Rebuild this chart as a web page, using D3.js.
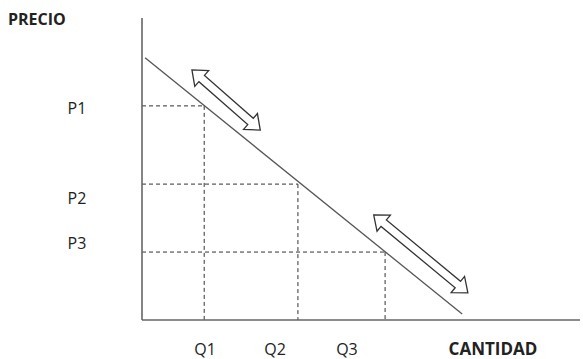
<!DOCTYPE html>
<html><head><meta charset="utf-8">
<script src="https://cdn.jsdelivr.net/npm/d3@7/dist/d3.min.js"></script>
<style>body{margin:0;background:#fff}svg{display:block}</style>
</head><body><svg id="c" width="583" height="359"></svg>
<script>
// ---- data (arbitrary units, 0..100 on both axes) ----
const priceLabels = ["P1", "P2", "P3"];
const priceValues = [70.9, 45.0, 22.5];
const priceLabelAt = [68.2, 38.4, 23.5];
const qtyLabels = ["Q1", "Q2", "Q3"];
const qtyValues = [14.2, 35.6, 55.5];
const qtyLabelAt = [14.4, 30.4, 46.8];
const demandX = [0.7, 73.1];
const demandY = [86.8, 2.0];
const arrowStartX = [11.4, 52.9];
const arrowStartY = [82.8, 34.8];
const arrowEndX = [27.0, 74.4];
const arrowEndY = [62.9, 9.0];
const axisTitles = ["PRECIO", "CANTIDAD"];

const svg = d3.select("#c");
const x = d3.scaleLinear().domain([0, 100]).range([142, 580]);
const y = d3.scaleLinear().domain([0, 100]).range([320, 18]);
const font = "'Open Sans', 'Liberation Sans', sans-serif";

// dashed guides
const g = svg.append("g");
priceValues.forEach((p, i) => {
  g.append("line").attr("x1", x(0)).attr("x2", x(qtyValues[i]))
    .attr("y1", y(p)).attr("y2", y(p))
    .attr("stroke", "#333").attr("stroke-width", 1).attr("stroke-dasharray", "4,3");
  g.append("line").attr("x1", x(qtyValues[i])).attr("x2", x(qtyValues[i]))
    .attr("y1", y(p)).attr("y2", y(0))
    .attr("stroke", "#333").attr("stroke-width", 1).attr("stroke-dasharray", "4,3");
});

// demand line
svg.append("line")
  .attr("x1", x(demandX[0])).attr("y1", y(demandY[0]))
  .attr("x2", x(demandX[1])).attr("y2", y(demandY[1]))
  .attr("stroke", "#555").attr("stroke-width", 1.3);

// axes
svg.append("line").attr("x1", x(0)).attr("x2", x(0)).attr("y1", y(100)).attr("y2", y(0))
  .attr("stroke", "#666").attr("stroke-width", 1.6);
svg.append("line").attr("x1", x(0)).attr("x2", x(100)).attr("y1", y(0)).attr("y2", y(0))
  .attr("stroke", "#666").attr("stroke-width", 1.6);

// double-headed hollow arrows
function arrowPath(x1, y1, x2, y2) {
  const dx = x2 - x1, dy = y2 - y1, len = Math.hypot(dx, dy);
  const ux = dx / len, uy = dy / len, px = -uy, py = ux;
  const hl = 13, hw = 10.5, sw = 4.2;
  const P = (t, s) => [x1 + ux * t + px * s, y1 + uy * t + py * s];
  const pts = [
    P(0, 0), P(hl, hw), P(hl, sw), P(len - hl, sw), P(len - hl, hw),
    P(len, 0), P(len - hl, -hw), P(len - hl, -sw), P(hl, -sw), P(hl, -hw)
  ];
  return "M" + pts.map(p => p.join(",")).join("L") + "Z";
}
arrowStartX.forEach((_, i) => {
  svg.append("path")
    .attr("d", arrowPath(x(arrowStartX[i]), y(arrowStartY[i]), x(arrowEndX[i]), y(arrowEndY[i])))
    .attr("fill", "#fff").attr("stroke", "#333").attr("stroke-width", 1.3)
    .attr("stroke-linejoin", "miter");
});

// labels
priceLabels.forEach((t, i) => {
  svg.append("text").attr("x", x(0) - 65).attr("y", y(priceLabelAt[i]))
    .attr("text-anchor", "middle")
    .attr("font-family", font).attr("font-size", 16).attr("fill", "#222").text(t);
});
qtyLabels.forEach((t, i) => {
  svg.append("text").attr("x", x(qtyLabelAt[i])).attr("y", y(0) + 35)
    .attr("text-anchor", "middle")
    .attr("font-family", font).attr("font-size", 16).attr("fill", "#222").text(t);
});
svg.append("text").attr("x", 8).attr("y", 25)
  .attr("font-family", font).attr("font-size", 16).attr("font-weight", "bold")
  .attr("fill", "#222").text(axisTitles[0]);
svg.append("text").attr("x", 493).attr("y", y(0) + 35).attr("text-anchor", "middle")
  .attr("font-family", font).attr("font-size", 17).attr("font-weight", "bold")
  .attr("fill", "#222").text(axisTitles[1]);
</script></body></html>
